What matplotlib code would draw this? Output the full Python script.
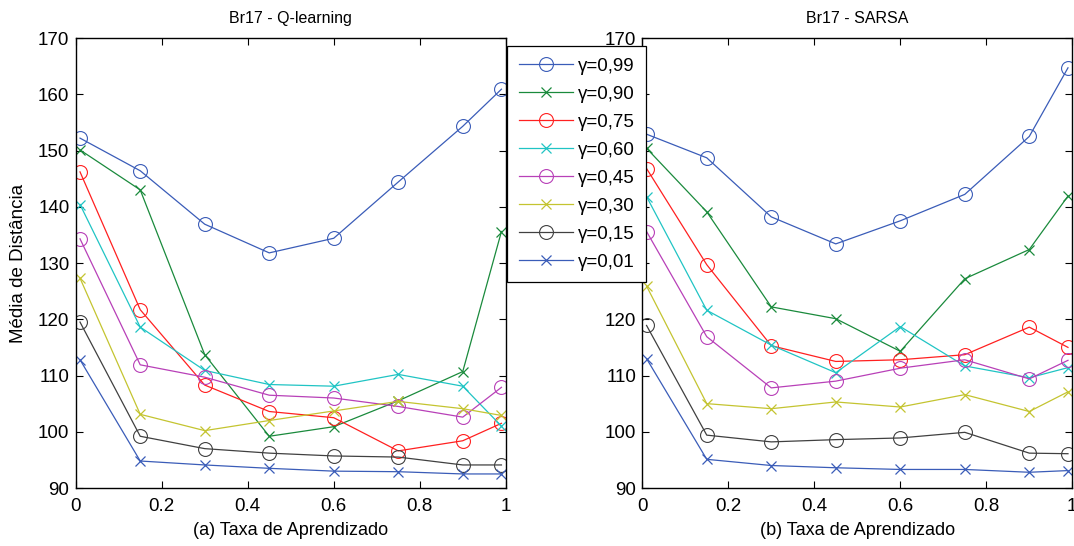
import matplotlib
matplotlib.use('Agg')
import matplotlib.pyplot as plt
from matplotlib.ticker import FuncFormatter

plt.rcParams['font.family'] = ['Liberation Sans', 'DejaVu Sans']

# learning rates (x axis)
alphas = [0.01, 0.15, 0.3, 0.45, 0.6, 0.75, 0.9, 0.99]
gamma_labels = ['γ=0,99', 'γ=0,90', 'γ=0,75', 'γ=0,60',
                'γ=0,45', 'γ=0,30', 'γ=0,15', 'γ=0,01']

# Br17 - Q-learning
q_099 = [152.2, 146.4, 136.9, 131.8, 134.4, 144.4, 154.3, 160.9]
q_090 = [150.1, 143.0, 113.7, 99.2, 100.9, 105.5, 110.7, 135.6]
q_075 = [146.2, 121.7, 108.3, 103.6, 102.5, 96.6, 98.4, 101.5]
q_060 = [140.4, 118.6, 110.9, 108.4, 108.1, 110.2, 108.1, 101.0]
q_045 = [134.3, 111.9, 109.7, 106.5, 106.0, 104.5, 102.6, 107.9]
q_030 = [127.3, 103.1, 100.2, 102.0, 103.7, 105.4, 104.1, 102.9]
q_015 = [119.5, 99.2, 97.0, 96.2, 95.7, 95.5, 94.1, 94.1]
q_001 = [112.8, 94.8, 94.1, 93.5, 93.0, 92.9, 92.5, 92.5]

# Br17 - SARSA
s_099 = [152.9, 148.7, 138.2, 133.4, 137.5, 142.2, 152.5, 164.7]
s_090 = [150.4, 139.1, 122.2, 120.1, 114.3, 127.2, 132.4, 141.9]
s_075 = [146.8, 129.7, 115.3, 112.5, 112.8, 113.7, 118.6, 115.0]
s_060 = [141.8, 121.6, 115.4, 110.5, 118.7, 111.7, 109.6, 111.4]
s_045 = [135.6, 116.9, 107.8, 109.0, 111.3, 112.8, 109.4, 112.7]
s_030 = [125.9, 105.0, 104.1, 105.3, 104.4, 106.6, 103.6, 107.1]
s_015 = [118.9, 99.4, 98.2, 98.6, 98.9, 99.9, 96.2, 96.1]
s_001 = [113.0, 95.1, 94.0, 93.6, 93.3, 93.3, 92.8, 93.1]

q_series = [q_099, q_090, q_075, q_060, q_045, q_030, q_015, q_001]
s_series = [s_099, s_090, s_075, s_060, s_045, s_030, s_015, s_001]

colors = ['#3a5cb8', '#1a8a3c', '#ff2020', '#20c4c4',
          '#b840b8', '#c4c430', '#404040', '#3a5cb8']
markers = ['o', 'x', 'o', 'x', 'o', 'x', 'o', 'x']


def fmt_x(v, pos):
    return '%g' % v


def draw(ax, series, title, xlabel):
    for ys, c, m, lab in zip(series, colors, markers, gamma_labels):
        if m == 'o':
            ax.plot(alphas, ys, color=c, marker='o', markersize=10,
                    fillstyle='none', markeredgewidth=0.8, lw=0.9, label=lab)
        else:
            ax.plot(alphas, ys, color=c, marker='x', markersize=7,
                    markeredgewidth=0.9, lw=0.9, label=lab)
    ax.set_xlim(0, 1)
    ax.set_ylim(90, 170)
    ax.set_xticks([0, 0.2, 0.4, 0.6, 0.8, 1])
    ax.set_yticks(range(90, 171, 10))
    ax.xaxis.set_major_formatter(FuncFormatter(fmt_x))
    ax.tick_params(direction='in', top=True, right=True, labelsize=13.5,
                   length=5, width=0.8)
    ax.tick_params(axis='x', pad=7.5)
    ax.tick_params(axis='y', pad=4.5)
    for sp in ax.spines.values():
        sp.set_linewidth(1.0)
    ax.set_title(title, fontsize=11.5, pad=11)
    ax.set_xlabel(xlabel, fontsize=13, labelpad=5)


fig = plt.figure(figsize=(10.74, 5.46), dpi=100)
ax1 = fig.add_axes([0.0705, 0.1062, 0.4004, 0.8242])
ax2 = fig.add_axes([0.598, 0.1062, 0.4004, 0.8242])

draw(ax1, q_series, 'Br17 - Q-learning', '(a) Taxa de Aprendizado')
draw(ax2, s_series, 'Br17 - SARSA', '(b) Taxa de Aprendizado')
ax1.set_ylabel('Média de Distância', fontsize=13.5, labelpad=8)

handles, labels = ax1.get_legend_handles_labels()
leg = fig.legend(handles, labels, loc='upper left',
                 bbox_to_anchor=(507 / 1074, 1 - 46 / 546),
                 fontsize=13.5, frameon=True, fancybox=False,
                 edgecolor='black', framealpha=1, borderaxespad=0,
                 handlelength=2.9, labelspacing=0.58, borderpad=0.62,
                 handletextpad=0.25)
leg.get_frame().set_linewidth(0.9)

fig.savefig('out.png', dpi=100)
